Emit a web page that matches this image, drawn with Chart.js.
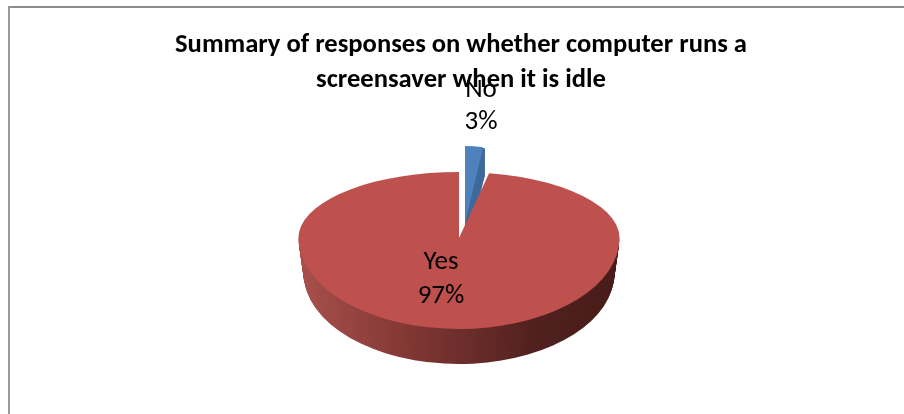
<!DOCTYPE html>
<html><head><meta charset="utf-8">
<style>
html,body{margin:0;padding:0;background:#fff;overflow:hidden}
#frame{position:absolute;left:8px;top:6px;width:896px;height:408px;box-sizing:border-box;border-left:2px solid #9a9a9a;border-top:2px solid #8c8c8c}
#wrap{position:absolute;left:0;top:0;width:904px;height:414px}
</style>
<script src="https://cdn.jsdelivr.net/npm/chart.js@4/dist/chart.umd.js"></script>
</head><body>
<div id="frame"></div>
<div id="wrap"><canvas id="c" width="904" height="414"></canvas></div>
<script>
const categories = ['Yes', 'No'];
const seriesValues = [97, 3];
const titleLines = ['Summary of responses on whether computer runs a', 'screensaver when it is idle'];
const sliceColors = ['#be504d', '#4f81bd'];

function place(ctx, el, ax, ay, rx, ry, dy) {
  ctx.translate(ax, ay + (dy || 0));
  ctx.scale(rx / el.outerRadius, ry / el.outerRadius);
  ctx.translate(-el.x, -el.y);
}
function drawWith(ctx, el, fill) {
  const saved = el.options;
  el.options = Object.assign({}, saved, {backgroundColor: fill, borderWidth: 0});
  el.draw(ctx);
  el.options = saved;
}
function band(ctx, y0, y1, fn) {
  ctx.save();
  ctx.beginPath();
  ctx.rect(0, y0, 904, y1 - y0);
  ctx.clip();
  fn();
  ctx.restore();
}
const tiltedPie = {
  id: 'tiltedPie',
  beforeDatasetDraw(chart, args) {
    const ctx = chart.ctx;
    const [yes, no] = chart.getDatasetMeta(args.index).data;
    const ax = 459, ay = 238, rx = 160.5, up = 66, down = 91, depth = 35;

    // exploded small slice: wall, then top face
    for (let d = 28; d > 0; d -= 1) {
      ctx.save(); place(ctx, no, 465, 223, 20 / Math.sin(0.1885), 77, d); drawWith(ctx, no, '#3f6a9c'); ctx.restore();
    }
    ctx.save(); place(ctx, no, 465, 223, 18 / Math.sin(0.1885), 77, 0); drawWith(ctx, no, '#4f81bd'); ctx.restore();

    // large slice wall with a left-to-right shaded gradient, tapering with depth
    const grad = ctx.createLinearGradient(yes.x - yes.outerRadius, 0, yes.x + yes.outerRadius, 0);
    grad.addColorStop(0, '#a84f4b');
    grad.addColorStop(0.35, '#803734');
    grad.addColorStop(0.75, '#4f201e');
    grad.addColorStop(1, '#481c1a');
    for (let d = depth; d > 0; d -= 1) {
      band(ctx, ay + d, 414, () => {
        ctx.save(); place(ctx, yes, ax, ay, rx - 5 * d / depth, down, d); drawWith(ctx, yes, grad); ctx.restore();
      });
    }
    // large slice top face, upper and lower halves
    band(ctx, 0, ay + 0.5, () => { ctx.save(); place(ctx, yes, ax, ay, rx, up); drawWith(ctx, yes, '#be504d'); ctx.restore(); });
    band(ctx, ay, 414, () => { ctx.save(); place(ctx, yes, ax, ay, rx, down); drawWith(ctx, yes, '#be504d'); ctx.restore(); });
    return false;
  },
  afterDraw(chart) {
    const ctx = chart.ctx;
    const total = seriesValues.reduce((a, b) => a + b, 0);
    const anchors = [[441, 262, 296], [481, 90, 122]];
    ctx.save();
    ctx.fillStyle = '#000';
    ctx.font = '27px Carlito, Lato, sans-serif';
    ctx.textAlign = 'center';
    ctx.textBaseline = 'middle';
    categories.forEach((name, i) => {
      ctx.fillText(name, anchors[i][0], anchors[i][1]);
      ctx.fillText(Math.round(seriesValues[i] / total * 100) + '%', anchors[i][0], anchors[i][2]);
    });
    ctx.restore();
  }
};

new Chart(document.getElementById('c'), {
  type: 'pie',
  data: {labels: categories, datasets: [{data: seriesValues, backgroundColor: sliceColors, borderWidth: 0}]},
  options: {
    responsive: false,
    animation: false,
    rotation: 10.8,
    layout: {padding: {left: 18, top: 0, right: 0, bottom: 0}},
    plugins: {
      legend: {display: false},
      tooltip: {enabled: false},
      title: {display: true, text: titleLines, color: '#000', padding: {top: 28, bottom: 10},
        font: {family: 'Carlito, Lato, sans-serif', size: 26.6, weight: 'bold', lineHeight: 1.32}}
    }
  },
  plugins: [tiltedPie]
});
</script>
</body></html>
